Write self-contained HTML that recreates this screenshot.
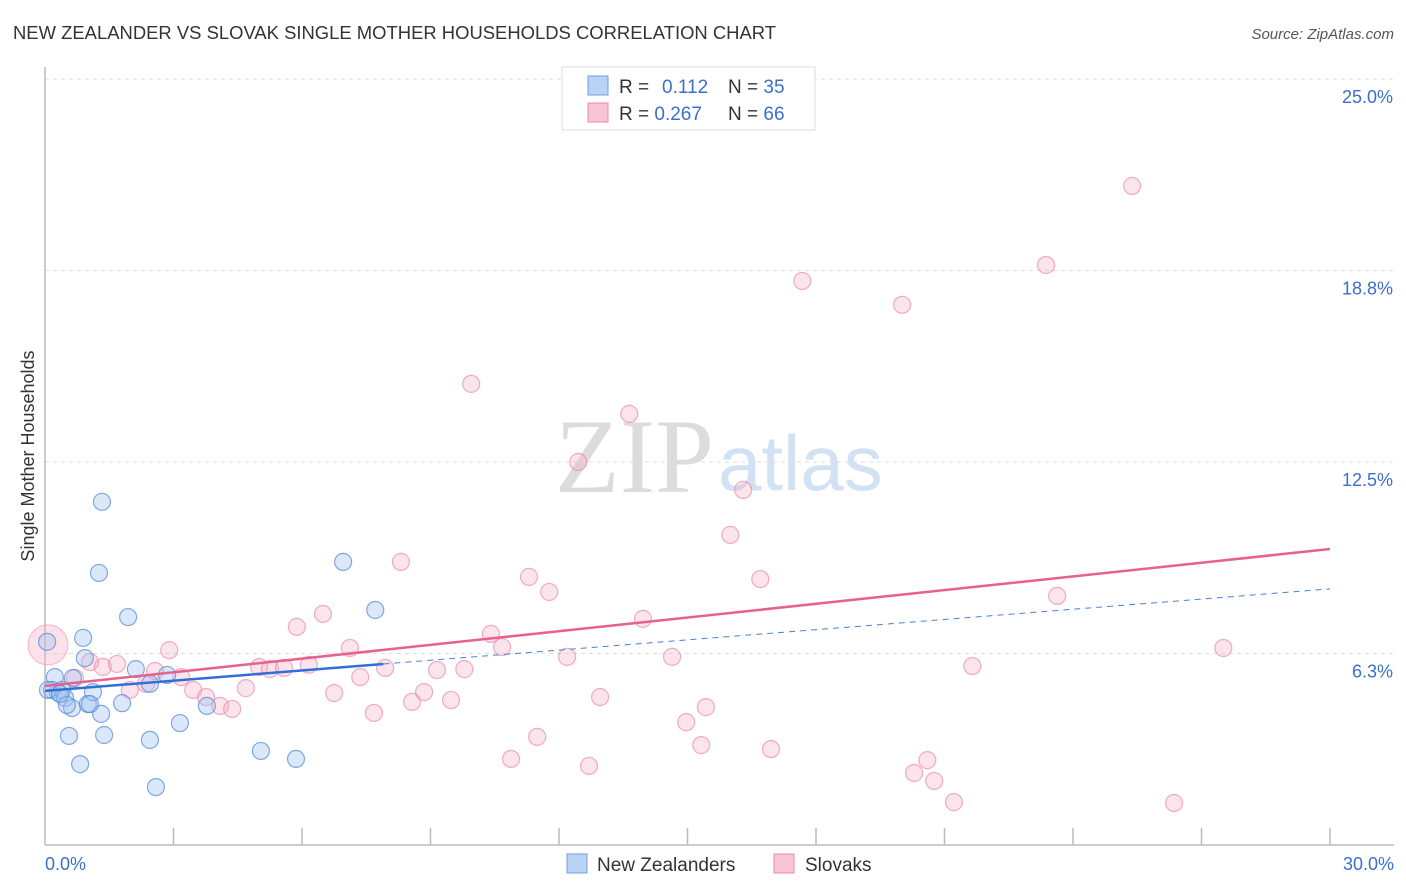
<!DOCTYPE html>
<html><head><meta charset="utf-8"><style>
body{margin:0;background:#fff;font-family:"Liberation Sans",sans-serif;}
svg{display:block}
</style></head><body>
<svg id="chart" width="1406" height="892" viewBox="0 0 1406 892">
<text x="13" y="39" font-size="18" fill="#333" textLength="763" lengthAdjust="spacingAndGlyphs">NEW ZEALANDER VS SLOVAK SINGLE MOTHER HOUSEHOLDS CORRELATION CHART</text>
<text x="1394" y="39" font-size="15" fill="#555" text-anchor="end" font-style="italic">Source: ZipAtlas.com</text>
<text x="0" y="0" font-size="18" fill="#333" text-anchor="middle" transform="translate(34,456) rotate(-90)">Single Mother Households</text>
<g id="grid"></g>
<g>
<text x="555" y="492" font-size="106" fill="#dcdcdc" font-family="Liberation Serif,serif">ZIP</text>
<text x="718" y="490" font-size="78" fill="#d3e2f3">atlas</text>
</g>
<g id="marks"></g>
<g>
<rect x="562" y="67" width="253" height="63" fill="#fff" stroke="#ddd"/>
<rect x="588" y="76" width="20" height="19" fill="#b8d3f5" stroke="#6f9fe0"/>
<rect x="588" y="103" width="20" height="19" fill="#f9c4d4" stroke="#eb8aa8"/>
<text x="619" y="93" font-size="19" fill="#333">R = <tspan x="662" fill="#3a70cc">0.112</tspan></text>
<text x="728" y="93" font-size="19" fill="#333">N = <tspan fill="#3a70cc">35</tspan></text>
<text x="619" y="120" font-size="19" fill="#333">R = <tspan fill="#3a70cc">0.267</tspan></text>
<text x="728" y="120" font-size="19" fill="#333">N = <tspan fill="#3a70cc">66</tspan></text>
</g>
<g>
<rect x="567" y="854" width="20" height="19" fill="#b8d3f5" stroke="#6f9fe0"/>
<text x="597" y="871" font-size="19" fill="#333">New Zealanders</text>
<rect x="774" y="854" width="20" height="19" fill="#f9c4d4" stroke="#eb8aa8"/>
<text x="805" y="871" font-size="19" fill="#333">Slovaks</text>
</g>
</svg>
<script>
const yTicks=[6.25,12.5,18.75,25];
const yTickLabels=["6.3%","12.5%","18.8%","25.0%"];
const xTickCount=10;
const xLabels=["0.0%","30.0%"];
const blueX=[0.05,0.89,0.23,0.65,0.93,0.16,0.30,0.40,0.47,0.63,0.51,1.00,1.12,1.31,0.56,1.38,0.82,1.33,1.26,1.94,1.80,2.12,2.45,2.85,2.45,3.15,2.59,3.78,5.04,5.86,6.96,7.71,1.05,0.07,0.35];
const blueY=[6.63,6.76,5.48,5.45,6.10,5.06,4.99,5.06,4.80,4.47,4.57,4.60,4.99,4.28,3.56,3.59,2.64,11.20,8.88,7.44,4.63,5.74,5.26,5.55,3.43,3.98,1.89,4.54,3.07,2.81,9.24,7.67,4.60,5.06,4.93];
const pinkX=[0.70,1.05,1.35,1.68,1.98,2.36,2.57,2.90,3.18,3.46,3.76,4.09,4.37,4.69,5.00,5.25,5.58,5.88,6.16,6.49,6.75,7.12,7.36,7.68,7.94,8.31,8.57,8.85,9.15,9.48,9.79,9.95,10.41,10.67,10.88,11.30,11.49,11.77,12.19,12.45,12.70,12.96,13.64,13.96,14.64,14.97,15.32,15.43,16.00,16.30,16.70,16.95,17.68,20.01,20.29,20.60,20.76,21.22,21.65,23.37,23.63,25.38,26.36,27.51];
const pinkY=[5.45,5.97,5.81,5.91,5.06,5.26,5.68,6.36,5.48,5.06,4.83,4.54,4.44,5.12,5.81,5.74,5.78,7.12,5.88,7.54,4.96,6.43,5.48,4.31,5.78,9.24,4.67,4.99,5.71,4.73,5.74,15.05,6.89,6.46,2.81,8.75,3.53,8.26,6.14,12.50,2.58,4.83,14.07,7.38,6.14,4.01,3.26,4.50,10.12,11.59,8.68,3.13,18.41,17.63,2.35,2.77,2.09,1.40,5.84,18.93,8.13,21.51,1.37,6.43];
const bigPink=[0.07,6.53];
const pinkTrend=[5.19,9.66];
const blueTrend=[5.03,8.36];
const blueSolidEnd=7.9;
const NS="http://www.w3.org/2000/svg";
const X0=45,X1=1330,Y0=845,Y25=79;
function sx(v){return X0+(v/30)*(X1-X0);}
function sy(v){return Y0-(v/25)*(Y0-Y25);}
function mk(tag,attrs,parent){const e=document.createElementNS(NS,tag);for(const k in attrs)e.setAttribute(k,attrs[k]);parent.appendChild(e);return e;}
const grid=document.getElementById('grid');
const marks=document.getElementById('marks');
yTicks.forEach((t,i)=>{
 const l=mk('line',{x1:X0,x2:1394,y1:sy(t),y2:sy(t),stroke:'#ddd','stroke-dasharray':'4,4'},grid);
 
 
 const tx=mk('text',{x:1393,y:sy(t)+24,'font-size':18,fill:'#3a70cc','text-anchor':'end'},grid);
 tx.textContent=yTickLabels[i];
 
 
});
const ax=mk('line',{x1:X0,x2:X0,y1:67,y2:Y0,stroke:'#bbb','stroke-width':1.5},grid);


const bx=mk('line',{x1:X0,x2:1394,y1:Y0,y2:Y0,stroke:'#bbb','stroke-width':1.5},grid);


for(let i=1;i<=xTickCount;i++){
 const t=mk('line',{x1:sx(i*3),x2:sx(i*3),y1:828,y2:Y0,stroke:'#bbb','stroke-width':1.5},grid);
 
 
}
[[0,'start',45],[30,'end',1394]].forEach((a,i)=>{
 const t=mk('text',{x:a[2],y:870,'font-size':18,fill:'#3a70cc','text-anchor':a[1]},grid);
 t.textContent=xLabels[i];
 
 
});
const bp=mk('circle',{cx:sx(bigPink[0]),cy:sy(bigPink[1]),r:20,fill:'rgba(246,170,195,0.35)',stroke:'rgba(235,130,165,0.55)'},marks);


pinkX.forEach((x,i)=>{
 const c=mk('circle',{cx:sx(x),cy:sy(pinkY[i]),r:8.5,fill:'rgba(246,170,195,0.32)',stroke:'rgba(235,130,165,0.65)','stroke-width':1.2},marks);
 
 
});
blueX.forEach((x,i)=>{
 const c=mk('circle',{cx:sx(x),cy:sy(blueY[i]),r:8.5,fill:'rgba(160,195,240,0.38)',stroke:'rgba(80,135,215,0.7)','stroke-width':1.2},marks);
 
 
});
function ty(tr,x){return tr[0]+(tr[1]-tr[0])*x/30;}
const bd=mk('line',{x1:sx(blueSolidEnd),y1:sy(ty(blueTrend,blueSolidEnd)),x2:sx(30),y2:sy(blueTrend[1]),stroke:'#4a80d8','stroke-width':1,'stroke-dasharray':'6,5'},marks);


const bs=mk('line',{x1:sx(0),y1:sy(blueTrend[0]),x2:sx(blueSolidEnd),y2:sy(ty(blueTrend,blueSolidEnd)),stroke:'#2f6fd6','stroke-width':2.5},marks);


const pt=mk('line',{x1:sx(0),y1:sy(pinkTrend[0]),x2:sx(30),y2:sy(pinkTrend[1]),stroke:'#e8608e','stroke-width':2.5},marks);


</script>
</body></html>
